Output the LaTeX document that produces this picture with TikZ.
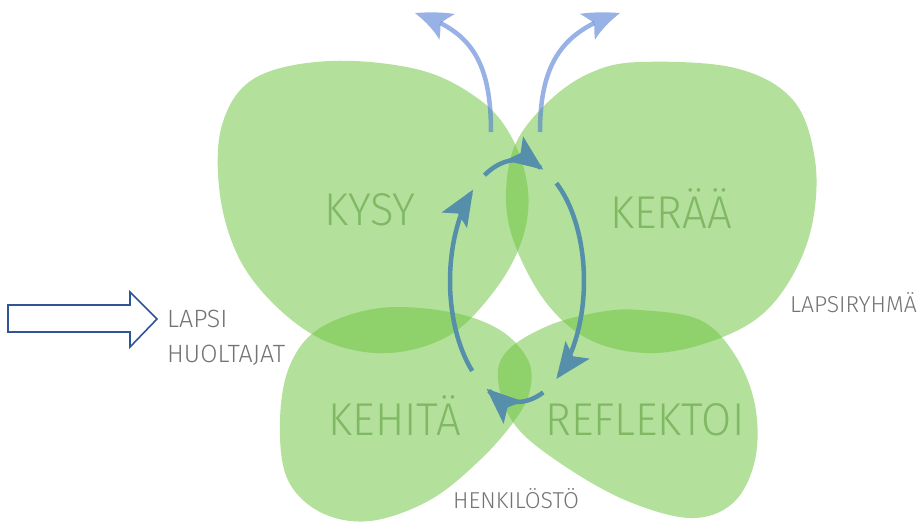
\documentclass[tikz,border=0pt]{standalone}
\usepackage{fontspec}
\newfontfamily\dinfont{Fira Sans Light}
\newfontfamily\petalfont{Fira Sans Light}[FakeStretch=0.95]
\usetikzlibrary{arrows.meta,bending}
\definecolor{petal}{RGB}{112,197,66}
\definecolor{petaltext}{RGB}{128,184,100}
\definecolor{labelgray}{RGB}{115,115,115}
\definecolor{cyclecol}{RGB}{86,143,170}
\definecolor{upcol}{RGB}{68,114,210}
\definecolor{outlinecol}{RGB}{47,85,151}
\begin{document}
\begin{tikzpicture}[x=1pt,y=-1pt,
  petalshape/.style={fill=petal, fill opacity=0.53, draw=none},
  petallabel/.style={font=\petalfont\fontsize{46}{50}\selectfont, text=petaltext, inner sep=0pt, anchor=base},
  sidelabel/.style={font=\dinfont\fontsize{25}{28}\selectfont, text=labelgray, inner sep=0pt, anchor=base west},
  smalllabel/.style={font=\dinfont\fontsize{23}{26}\selectfont, text=labelgray, inner sep=0pt, anchor=base west},
  cyclearrow/.style={draw=cyclecol, line width=4.5pt, -{Stealth[length=36pt,width=30pt,inset=8pt,line width=0pt,quick]}},
  uparrow/.style={draw=upcol, opacity=0.55, line width=4.5pt, -{Stealth[length=38pt,width=30pt,inset=9pt,line width=0pt,bend]}},
  bigoutline/.style={draw=outlinecol, line width=1.6pt, fill=white, line join=miter}
]
\useasboundingbox (0,0) rectangle (921,523);
% petals
\fill[petalshape] plot[smooth cycle, tension=0.6] coordinates {(330,61) (420,70) (480,100) (512,138) (528,190) (522,240) (495,290) (450,335) (390,353) (330,343) (280,310) (240,260) (220,195) (222,125) (255,78)};
\fill[petalshape] plot[smooth cycle, tension=0.6] coordinates {(640,62) (735,68) (793,100) (815,160) (812,225) (790,280) (755,320) (700,345) (645,353) (590,340) (548,305) (517,250) (506,200) (515,145) (548,102) (590,73)};
\fill[petalshape] plot[smooth cycle, tension=0.6] coordinates {(380,308) (450,312) (500,330) (528,360) (530,390) (515,420) (480,460) (430,500) (370,521) (320,512) (287,478) (280,420) (290,365) (320,328)};
\fill[petalshape] plot[smooth cycle, tension=0.6] coordinates {(640,310) (700,320) (735,355) (755,405) (755,460) (733,503) (690,518) (625,500) (560,463) (515,425) (498,380) (508,350) (550,325) (600,312)};
% petal labels
\node[petallabel] (kysy) at (370,225) {KYSY};
\node[petallabel] (keraa) at (671,228) {KERÄÄ};
\node[petallabel] (kehita) at (395,435) {KEHITÄ};
\node[petallabel] (reflektoi) at (645,435) {REFLEKTOI};
% side labels
\node[sidelabel] (lapsi) at (167,327) {LAPSI};
\node[sidelabel] (huoltajat) at (167,362) {HUOLTAJAT};
\node[smalllabel] (lapsiryhma) at (790,312) {LAPSIRYHMÄ};
\node[smalllabel] (henkilosto) at (453,508) {HENKILÖSTÖ};
% outline arrow
\draw[bigoutline] (8,305) -- (130,305) -- (130,292) -- (157,319) -- (130,347) -- (130,332) -- (8,332) -- cycle;
% upward arrows
\coordinate (luS) at (491,132);
\coordinate (luE) at (415,13);
\coordinate (ruS) at (540,132);
\coordinate (ruE) at (620,13);
\draw[uparrow] (luS) .. controls (491,60) and (470,30) .. (luE);
\draw[uparrow] (ruS) .. controls (540,60) and (565,30) .. (ruE);
% cycle arrows (arcs of one ellipse)
\draw[cyclearrow] plot[domain=241:293, samples=20, smooth, variable=\t] ({517+67*cos(\t)},{281+121*sin(\t)});
\draw[cyclearrow] plot[domain=306:414, samples=30, smooth, variable=\t] ({517+67*cos(\t)},{281+121*sin(\t)});
\draw[cyclearrow] plot[domain=67:117, samples=20, smooth, variable=\t] ({517+67*cos(\t)},{281+121*sin(\t)});
\draw[cyclearrow] plot[domain=132:229, samples=30, smooth, variable=\t] ({517+67*cos(\t)},{281+121*sin(\t)});
\end{tikzpicture}
\end{document}
